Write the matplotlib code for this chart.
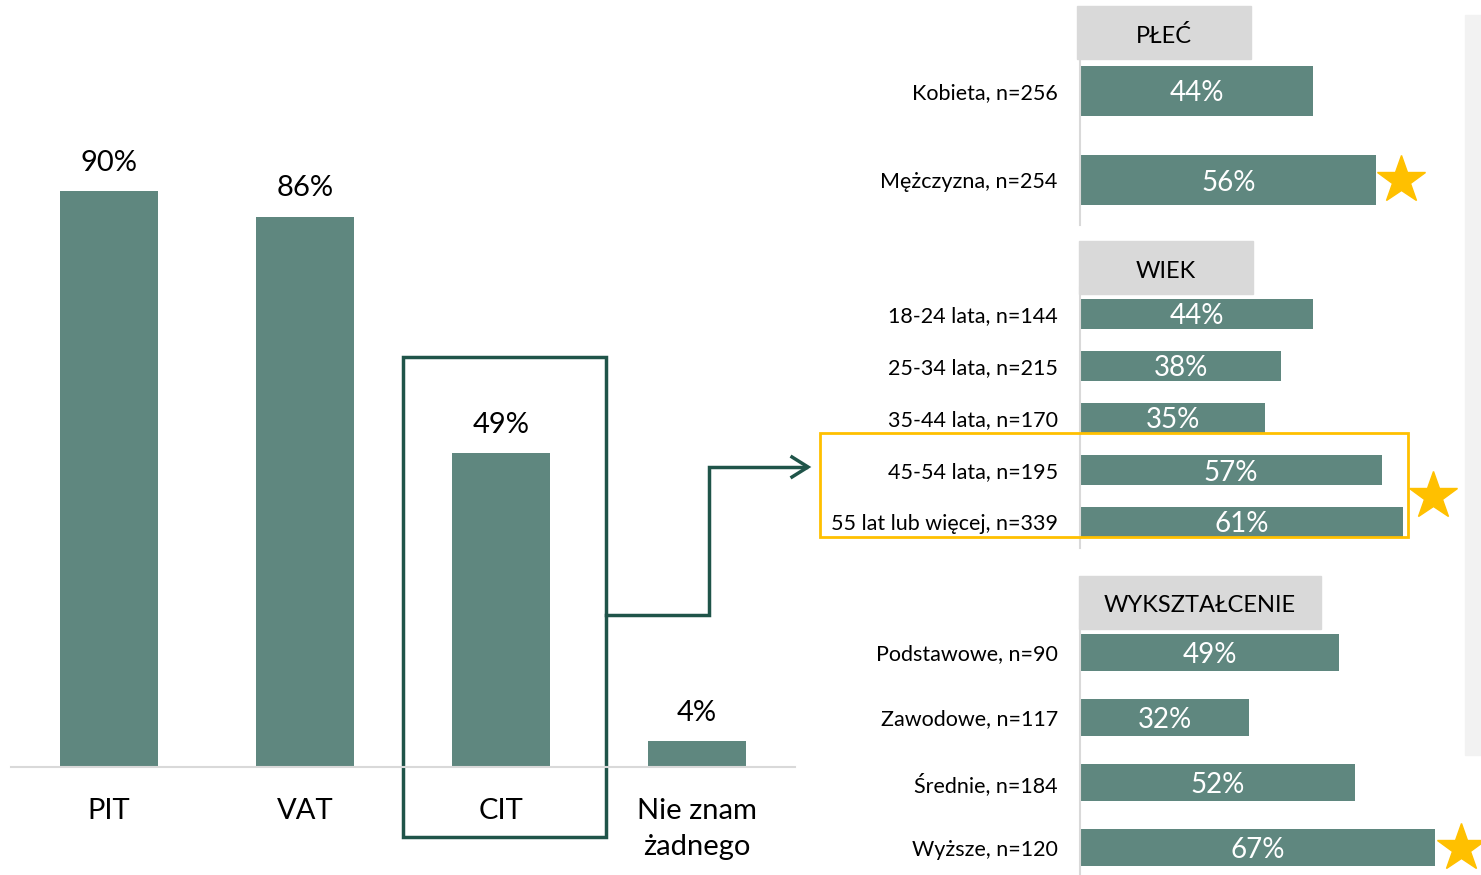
import matplotlib.pyplot as plt
from matplotlib.patches import Rectangle

plt.rcParams['font.family'] = ['Lato', 'DejaVu Sans']

# dane - wykres główny
podatki = ["PIT", "VAT", "CIT", "Nie znam\nżadnego"]
znajomosc = [90, 86, 49, 4]

# dane - CIT wg grup
plec_kat = ["Kobieta, n=256", "Mężczyzna, n=254"]
plec_val = [44, 56]
wiek_kat = ["18-24 lata, n=144", "25-34 lata, n=215", "35-44 lata, n=170",
            "45-54 lata, n=195", "55 lat lub więcej, n=339"]
wiek_val = [44, 38, 35, 57, 61]
wyk_kat = ["Podstawowe, n=90", "Zawodowe, n=117", "Średnie, n=184", "Wyższe, n=120"]
wyk_val = [49, 32, 52, 67]

KOLOR = "#5F877F"
CIEMNY = "#1F5449"
ZOLTY = "#FFC000"
W, H = 1481, 875

fig = plt.figure(figsize=(W / 100, H / 100), dpi=100)


def osie_px(x0, y0, x1, y1):
    return fig.add_axes([x0 / W, 1 - y1 / H, (x1 - x0) / W, (y1 - y0) / H])


# lewy wykres słupkowy
ax = osie_px(11, 127, 795, 767)
x = range(len(podatki))
ax.bar(x, znajomosc, width=0.5, color=KOLOR)
for i, v in zip(x, znajomosc):
    ax.annotate(f"{v}%", (i, v), xytext=(0, 11), textcoords="offset points",
                ha="center", va="bottom", fontsize=21, color="black")
ax.set_xlim(-0.5, 3.5)
ax.set_ylim(0, 100)
ax.set_xticks(list(x))
ax.set_xticklabels(podatki, fontsize=21, linespacing=1.5)
ax.tick_params(axis="x", length=0, pad=22)
ax.set_yticks([])
for s in ["top", "left", "right"]:
    ax.spines[s].set_visible(False)
ax.spines["bottom"].set_color("#D9D9D9")
ax.spines["bottom"].set_linewidth(1.5)
ax.add_patch(Rectangle((1.5, -11), 1.035, 75, fill=False, edgecolor=CIEMNY,
                       linewidth=2.5, clip_on=False))


def panel(y0, y1, kat, val, gwiazdka, bar_h):
    a = osie_px(1080, y0, 1477, y1)
    pos = range(len(kat))
    a.barh(pos, val, height=bar_h, color=KOLOR)
    for i, v in zip(pos, val):
        a.text(v / 2, i, f"{v}%", ha="center", va="center_baseline",
               color="white", fontsize=20)
    a.set_xlim(0, 75)
    a.set_ylim(len(kat) - 0.5, -0.5)
    a.set_yticks(list(pos))
    a.set_yticklabels(kat, fontsize=15.5)
    a.tick_params(axis="y", length=0, pad=16)
    a.set_xticks([])
    for s in ["top", "bottom", "right"]:
        a.spines[s].set_visible(False)
    a.spines["left"].set_color("#D9D9D9")
    a.spines["left"].set_linewidth(1.5)
    gx, gy = gwiazdka
    a.plot([gx], [gy], marker="*", markersize=36, color=ZOLTY, clip_on=False)
    return a


panel(46, 225, plec_kat, plec_val, (plec_val[1] + 4.6, 1), 0.56)
panel(288, 548, wiek_kat, wiek_val, (wiek_val[4] + 5.6, 3.5), 0.56)
panel(620, 880, wyk_kat, wyk_val, (wyk_val[3] + 5.0, 3), 0.57)

# warstwa dekoracji w pikselach
ov = fig.add_axes([0, 0, 1, 1], facecolor="none")
ov.set_xlim(0, W)
ov.set_ylim(H, 0)
ov.axis("off")
ov.add_patch(Rectangle((1465, 15), 16, 740, color="#F2F2F2", zorder=0))
for (hx, hy, hw, txt) in [(1077, 6, 174, "PŁEĆ"), (1079, 241, 174, "WIEK"),
                          (1079, 576, 242, "WYKSZTAŁCENIE")]:
    ov.add_patch(Rectangle((hx, hy), hw, 53, color="#D9D9D9", zorder=1))
    ov.text(hx + hw / 2, hy + 28, txt, ha="center", va="center_baseline",
            fontsize=17, zorder=2)
ov.add_patch(Rectangle((820, 433), 588, 104, fill=False, edgecolor=ZOLTY,
                       linewidth=2, zorder=3))
ov.plot([606, 709, 709, 806], [615, 615, 467, 467], color=CIEMNY, linewidth=2.5,
        solid_joinstyle="miter")
ov.plot([792, 808, 792], [457, 467, 477], color=CIEMNY, linewidth=2.5,
        solid_joinstyle="miter")

fig.savefig("out.png", dpi=100)
